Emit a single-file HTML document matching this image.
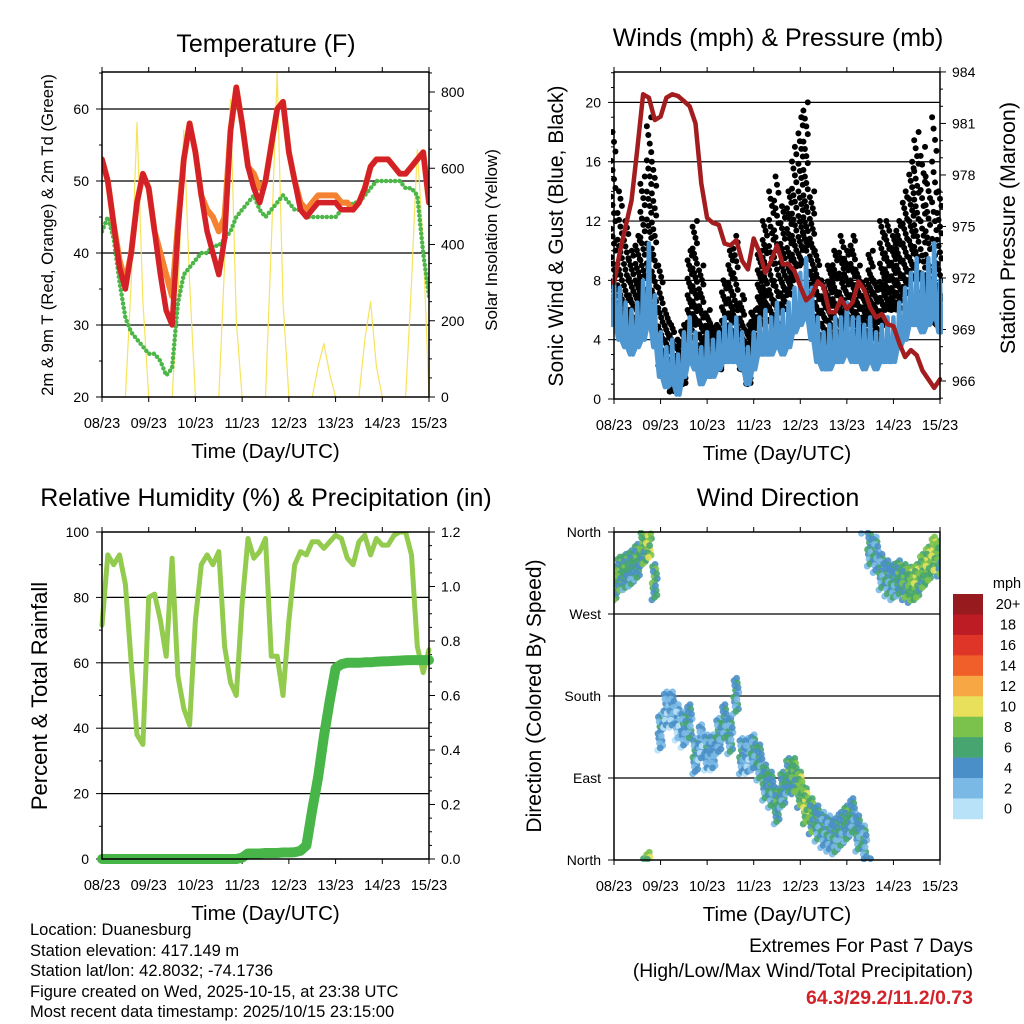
<!DOCTYPE html>
<html><head><meta charset="utf-8">
<style>
html,body{margin:0;padding:0;background:#fff;}
svg{display:block;font-family:"Liberation Sans",Arial,sans-serif;}
</style></head>
<body>
<svg id="fig" width="1024" height="1024" viewBox="0 0 1024 1024" xmlns="http://www.w3.org/2000/svg">
<rect width="1024" height="1024" fill="#fff"/>
<g id="p1"></g>
<g id="p2"></g>
<g id="p3"></g>
<g id="p4"></g>
<g id="cb"></g>
<g font-size="16.5" fill="#000">
<text x="30" y="935">Location: Duanesburg</text>
<text x="30" y="956">Station elevation: 417.149 m</text>
<text x="30" y="976">Station lat/lon: 42.8032; -74.1736</text>
<text x="30" y="997">Figure created on Wed, 2025-10-15, at 23:38 UTC</text>
<text x="30" y="1017">Most recent data timestamp: 2025/10/15 23:15:00</text>
</g>
<g font-size="19.2" text-anchor="end">
<text x="973" y="952">Extremes For Past 7 Days</text>
<text x="973" y="977">(High/Low/Max Wind/Total Precipitation)</text>
<text x="973" y="1004" fill="#d2232a" font-weight="bold" font-size="19.5">64.3/29.2/11.2/0.73</text>
</g>
</svg>
<script>
// ---- data (3-hour steps from 08/23 to 15/23) ----
const dayLabels = ["08/23","09/23","10/23","11/23","12/23","13/23","14/23","15/23"];
const temp2m = [53,50,44,38,35,40,47,51,49,43,37,32,30,43,53,58,54,48,43,40,37,42,57,63,58,52,49,47,50,55,60,61,54,50,46,45,46,47,47,47,47,46,46,46,47,49,52,53,53,53,52,51,51,52,53,54,47];
const temp9m = [53,50,44,39,36,40,47,51,49,43,40,37,34,44,53,58,54,48,46,45,43,45,57,63,58,52,51,49,50,55,60,61,54,50,47,46,47,48,48,48,48,47,47,46,47,49,52,53,53,53,52,51,51,52,53,54,47];
const dewpt = [43,45,42,36,31,29,28,27,26,26,25,23,24,33,37,38,39,40,40,41,41,42,43,45,46,47,48,46,45,46,47,48,47,46,46,45,45,45,45,45,45,46,46,47,47,48,49,50,50,50,50,50,49,49,48,40,34];
const solar = [0,0,0,0,0,300,720,250,0,0,0,0,0,250,700,300,0,0,0,0,0,350,780,200,0,0,0,0,0,400,850,250,0,0,0,0,0,80,140,60,0,0,0,0,0,150,250,80,0,0,0,0,0,300,650,400,0];
const pressure = [971.7,973.5,975,976.5,979.5,982.7,982.5,981.2,981.4,982.5,982.7,982.6,982.3,982,981,977.5,975.5,975.2,975.1,974,973.9,974.2,973,972.5,974.3,973.5,972.3,973,973.9,972.8,972.8,972.4,971.5,970.7,971,971.8,971.5,970,970,970.8,970.2,970.6,971.8,971.3,970.3,969.7,969.9,969.3,969.2,968.2,967.4,967.8,967.5,966.6,966.1,965.6,966.1];
const windMin = [5,4,3.5,3,3.5,4,5,3.5,1.5,0.8,1,0.3,1.5,2.5,2,1,1.5,1.5,2,2.5,2.5,2.5,2,1,2,3,3,3,3.5,3,3.5,4.5,5,5.5,4,2.5,2,2,2.5,2.5,3,2.5,2.5,2,2.5,2,2.5,2.5,2.5,3.5,4,5,5,4.5,5,5.5,4.5];
const windMax = [8,7.5,6.5,6,6.5,8,10.5,7,4.5,3.5,4,3,4.5,5.5,4.5,3.5,4.5,4,4.5,5.5,5,5.5,4.5,3.5,4.5,5.5,6,5.5,6.5,6,6.5,7.5,8.5,9.5,7.5,5.5,4.5,5,5.5,5.5,6.5,5.5,5.5,5,5.5,4.5,5,5.5,5.5,6.5,7.5,8.5,9.5,8.5,9.5,10.5,8];
const gustLow = [6,5,4,4,5,6,8,6,2,1,0.5,1,1,4,5,3,2,2,2,3,4,3,2,1,3,5,6,5,5,6,7,8,9,10,7,4,3,4,4,4,5,5,4,4,5,4,5,6,6,6,7,8,8,6,6,5,5];
const gustHigh = [18,14,12,10,11,15,19,16,9,6,5,4,5,10,12,9,6,5,5,8,10,11,7,5,6,10,12,14,15,13,14,17,19,20,14,10,8,9,10,11,10,11,9,8,10,8,12,12,11,12,14,16,18,17,15,19,14];
const rh = [71.5,93,90,93,84,60,38,35,80,81,73,62,92,56,46,41,73,90,93,90,94,65,54,50,78,98,92,94,98,62,62,50,73,90,94,93,97,97,95,97,99,98,92,90,97,99,93,98,96,96,99,100,100,93,65,57,64];
const precip = [0,0,0,0,0,0,0,0,0,0,0,0,0,0,0,0,0,0,0,0,0,0,0,0,0.005,0.02,0.02,0.02,0.022,0.022,0.022,0.024,0.024,0.025,0.03,0.05,0.18,0.30,0.45,0.58,0.70,0.715,0.72,0.72,0.72,0.722,0.722,0.724,0.725,0.726,0.727,0.728,0.729,0.73,0.73,0.73,0.73];
const windDir = [302,313,316,320,327,342,349,305,140,165,165,151,143,151,114,129,118,118,136,151,136,180,114,114,118,107,85,77,59,77,92,92,77,59,48,40,33,29,26,33,40,48,29,18,342,335,316,309,305,309,305,302,305,316,324,335,331];
const cbLabels = ["20+","18","16","14","12","10","8","6","4","2","0"];
const cbColors = ["#971a1e","#bd1c25","#de3528","#f05f2a","#f8a745","#e8e05a","#7bc24d","#47a56f","#4a8fc7","#7ab9e5","#b8e2f7"];

const NS="http://www.w3.org/2000/svg";
function mk(parent,tag,attrs,text){const e=document.createElementNS(NS,tag);for(const k in attrs)e.setAttribute(k,attrs[k]);if(text!==undefined)e.textContent=text;parent.appendChild(e);return e;}
const nDays=7, nSteps=temp2m.length;

function panel(g,L,R,T,B){
  const xs=i=>L+(R-L)*(i/(nSteps-1));
  const xd=d=>L+(R-L)*d/nDays;
  return {L,R,T,B,xs,xd};
}
function frame(g,P,opts){
  for(let d=0;d<=nDays;d++){
    const x=P.xd(d);
    const t1=mk(g,'line',{x1:x,x2:x,y1:P.B,y2:P.B+5,stroke:'#000','stroke-width':1});
    
    
    mk(g,'line',{x1:x,x2:x,y1:P.T,y2:P.T-5,stroke:'#000','stroke-width':1});
    const lb=mk(g,'text',{x:x,y:P.B+31,'font-size':14.5,'text-anchor':'middle'},dayLabels[d]);
    
    
  }
  const xt=mk(g,'text',{x:(P.L+P.R)/2,y:P.B+61,'font-size':20.5,'text-anchor':'middle'},'Time (Day/UTC)');
  
  
  const ti=mk(g,'text',{x:opts.titleX,y:opts.titleY,'font-size':25,'text-anchor':'middle'},opts.title);
  
  
}
function border(g,P){
  const b=mk(g,'rect',{x:P.L,y:P.T,width:P.R-P.L,height:P.B-P.T,fill:'none',stroke:'#000','stroke-width':1.5});
  
  
}
function gridY(g,P,y){mk(g,'line',{x1:P.L,x2:P.R,y1:y,y2:y,stroke:'#000','stroke-width':1.2});}
function yTickL(g,P,y,label,major){
  mk(g,'line',{x1:P.L-(major?6:3),x2:P.L,y1:y,y2:y,stroke:'#000','stroke-width':1});
  if(label!==null){const t=mk(g,'text',{x:P.L-13,y:y+5,'font-size':14,'text-anchor':'end'},label);
    
    }
}
function yTickR(g,P,y,label,major){
  mk(g,'line',{x1:P.R,x2:P.R+(major?6:3),y1:y,y2:y,stroke:'#000','stroke-width':1});
  if(label!==null){const t=mk(g,'text',{x:P.R+12,y:y+5,'font-size':14,'text-anchor':'start'},label);
    
    }
}
function vtitle(g,x,y,size,txt,name){
  const t=mk(g,'text',{x:x,y:y,'font-size':size,'text-anchor':'middle',transform:`rotate(-90 ${x} ${y})`},txt);
  
  
}
function polyline(g,pts,attrs,name){
  const p=mk(g,'polyline',Object.assign({points:pts.map(p=>p[0].toFixed(1)+','+p[1].toFixed(1)).join(' '),fill:'none','stroke-linejoin':'round','stroke-linecap':'round'},attrs));
  
  
  return p;
}

// ---------- Panel 1: Temperature ----------
(function(){
  const g=document.getElementById('p1');
  const P=panel(g,102,429,72,397);
  const yT=v=>397-(v-20)*7.2;
  const yS=v=>397-v*0.38125;
  frame(g,P,{title:'Temperature (F)',titleX:266,titleY:52});
  [30,40,50,60].forEach(v=>gridY(g,P,yT(v)));
  for(let v=20;v<=65;v+=5){yTickL(g,P,yT(v),v%10===0?String(v):null,v%10===0);}
  for(let v=0;v<=850;v+=50){if(yS(v)<P.T-1)break;yTickR(g,P,yS(v),v%200===0?String(v):null,v%200===0);}
  vtitle(g,53,235,16.7,'2m & 9m T (Red, Orange) & 2m Td (Green)','left-axis-title');
  vtitle(g,497,240,17,'Solar Insolation (Yellow)','right-axis-title');
  const clip=mk(g,'clipPath',{id:'c1'});mk(clip,'rect',{x:P.L,y:P.T,width:P.R-P.L,height:P.B-P.T});
  const cl=mk(g,'g',{'clip-path':'url(#c1)'});
  polyline(cl,solar.map((v,i)=>[P.xs(i),yS(v)]),{stroke:'#f7e35a','stroke-width':1.2},'solar-line');
  polyline(cl,dewpt.map((v,i)=>[P.xs(i),yT(v)]),{stroke:'#4cb648','stroke-width':4.5,'stroke-dasharray':'0 4.5'},'dewpoint-line');
  polyline(cl,temp9m.map((v,i)=>[P.xs(i),yT(v)]),{stroke:'#f58231','stroke-width':6},'temp-9m-line');
  polyline(cl,temp2m.map((v,i)=>[P.xs(i),yT(v)]),{stroke:'#d42027','stroke-width':5.5},'temp-2m-line');
  border(g,P);
})();

// ---------- Panel 2: Winds & Pressure ----------
(function(){
  const g=document.getElementById('p2');
  const P=panel(g,614,940,72,399);
  const yW=v=>399-v*14.83;
  const yP=v=>381-(v-966)*17.17;
  frame(g,P,{title:'Winds (mph) & Pressure (mb)',titleX:778,titleY:46});
  [4,8,12,16,20].forEach(v=>gridY(g,P,yW(v)));
  for(let v=0;v<=22;v+=1){yTickL(g,P,yW(v),v%4===0?String(v):null,v%4===0);}
  for(let v=965;v<=985;v+=1){const y=yP(v);if(y<P.T-1||y>P.B)continue;yTickR(g,P,y,(v-966)%3===0?String(v):null,(v-966)%3===0);}
  vtitle(g,563,236,21,'Sonic Wind & Gust (Blue, Black)','left-axis-title');
  vtitle(g,1015,228,21.5,'Station Pressure (Maroon)','right-axis-title');
  const clip=mk(g,'clipPath',{id:'c2'});mk(clip,'rect',{x:P.L-3,y:P.T,width:P.R-P.L+6,height:P.B-P.T+3});
  const cl=mk(g,'g',{'clip-path':'url(#c2)'});
  const gg=mk(cl,'g',{fill:'#000'});
  
  
  const K=28, stepW=(P.R-P.L)/(nSteps-1);
  for(let i=0;i<nSteps;i++){
    for(let k=0;k<K;k++){
      const f=((k*11)%K)/(K-1);
      const v=gustLow[i]+(gustHigh[i]-gustLow[i])*Math.pow(f,1.5);
      const x=P.xs(i)+stepW*(((k*7+i*3)%K)/K-0.5);
      mk(gg,'circle',{cx:x,cy:yW(v),r:3});
    }
  }
  const band=[];
  for(let i=0;i<nSteps;i++){
    band.push([P.xs(i)-stepW*0.25,yW(windMin[i])]);
    band.push([P.xs(i),yW(windMax[i])]);
    band.push([P.xs(i)+stepW*0.25,yW(windMin[i])]);
  }
  polyline(cl,band,{stroke:'#4f97d1','stroke-width':4.5},'sonic-wind-line');
  polyline(cl,pressure.map((v,i)=>[P.xs(i),yP(v)]),{stroke:'#a31d1f','stroke-width':4.5},'pressure-line');
  border(g,P);
})();

// ---------- Panel 3: RH & Precip ----------
(function(){
  const g=document.getElementById('p3');
  const P=panel(g,102,429,532,859);
  const yR=v=>859-v*3.27;
  const yPr=v=>859-v*272.5;
  frame(g,P,{title:'Relative Humidity (%) & Precipitation (in)',titleX:266,titleY:506});
  [20,40,60,80].forEach(v=>gridY(g,P,yR(v)));
  for(let v=0;v<=100;v+=10){yTickL(g,P,yR(v),v%20===0?String(v):null,v%20===0);}
  for(let k=0;k<=24;k++){const v=k*0.05;yTickR(g,P,yPr(v),k%4===0?v.toFixed(1):null,k%4===0);}
  vtitle(g,47,696,22,'Percent & Total Rainfall','left-axis-title');
  const clip=mk(g,'clipPath',{id:'c3'});mk(clip,'rect',{x:P.L-6,y:P.T,width:P.R-P.L+12,height:P.B-P.T+6});
  const cl=mk(g,'g',{'clip-path':'url(#c3)'});
  polyline(cl,rh.map((v,i)=>[P.xs(i),yR(v)]),{stroke:'#93cb4f','stroke-width':5},'rh-line');
  polyline(cl,precip.map((v,i)=>[P.xs(i),yPr(v)]),{stroke:'#48b548','stroke-width':10},'precip-line');
  border(g,P);
})();

// ---------- Panel 4: Wind Direction ----------
(function(){
  const g=document.getElementById('p4');
  const P=panel(g,614,940,532,860);
  const yD=v=>860-v/360*328;
  frame(g,P,{title:'Wind Direction',titleX:778,titleY:506});
  [90,180,270].forEach(v=>gridY(g,P,yD(v)));
  const names=['North','East','South','West','North'];
  names.forEach((n,k)=>yTickL(g,P,yD(k*90),n,true));
  vtitle(g,541,696,21,'Direction (Colored By Speed)','left-axis-title');
  const clip=mk(g,'clipPath',{id:'c4'});mk(clip,'rect',{x:P.L,y:P.T-2,width:P.R-P.L,height:P.B-P.T+4});
  const cl=mk(g,'g',{'clip-path':'url(#c4)'});
  
  
  const K=16, stepW=(P.R-P.L)/(nSteps-1);
  function colorFor(s){let b=Math.floor(s/2);if(b<0)b=0;if(b>10)b=10;return cbColors[10-b];}
  for(let i=0;i<nSteps;i++){
    const mid=(windMin[i]+windMax[i])/2+1.2;
    for(let k=0;k<K;k++){
      let d=windDir[i]+((k*5)%K-(K-1)/2)*2.6;
      d=((d%360)+360)%360;
      const s=mid+((k*7)%K-(K-1)/2)*0.3;
      const x=P.xs(i)+stepW*(((k*3)%K)/K-0.5);
      mk(cl,'circle',{cx:x,cy:yD(d),r:3.4,fill:colorFor(s),'fill-opacity':0.9});
    }
  }
  border(g,P);
})();

// ---------- Colorbar ----------
(function(){
  const g=document.getElementById('cb');
  mk(g,'text',{x:1007,y:588,'font-size':14.5,'text-anchor':'middle'},'mph');
  const h=20.45;
  cbLabels.forEach((lab,k)=>{
    const r=mk(g,'rect',{x:953,y:594+k*h,width:30,height:h+0.3,fill:cbColors[k]});
    
    
    const t=mk(g,'text',{x:1008,y:594+k*h+h/2+5,'font-size':14.5,'text-anchor':'middle'},lab);
    
    
  });
})();
</script>
</body></html>
